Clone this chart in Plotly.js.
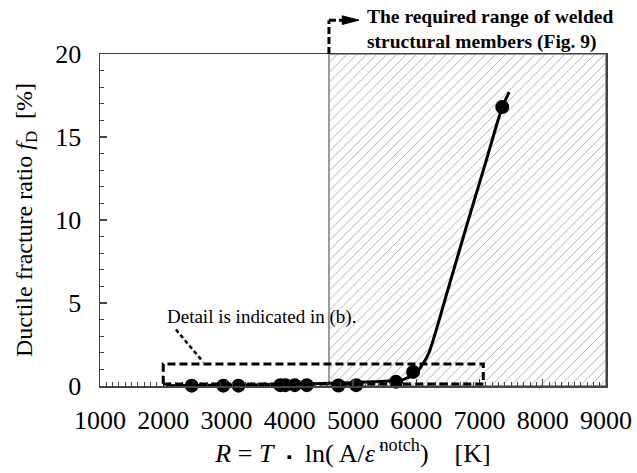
<!DOCTYPE html>
<html>
<head>
<meta charset="utf-8">
<script src="https://cdn.plot.ly/plotly-3.0.1.min.js"></script>
<style>html,body{margin:0;padding:0;background:#fff;}</style>
</head>
<body>
<div id="chart" style="width:637px;height:473px;"></div>
<script>
// Measured points: R [K] vs ductile fracture ratio fD [%]
const rValues = [2450, 2950, 3190, 3850, 3930, 4080, 4270, 4770, 5050, 5680, 5950, 7360];
const fdValues = [0.02, 0.02, 0.02, 0.05, 0.05, 0.05, 0.05, 0.03, 0.05, 0.25, 0.85, 16.8];

// Fitted curve
const fitR  = [2050, 2500, 3000, 3500, 4000, 4500, 5000, 5500, 5800, 6000, 6100, 6200, 6500, 6800, 7100, 7360, 7470];
const fitFd = [0.02, 0.03, 0.05, 0.07, 0.1, 0.15, 0.2, 0.28, 0.4, 0.8, 1.3, 2.0, 5.8, 9.7, 13.5, 16.8, 17.7];

// Required range of welded structural members
const rangeR = [4620, 9000];
const rangeFd = [0, 20];

// Axis ticks
const xTicks = [1000, 2000, 3000, 4000, 5000, 6000, 7000, 8000, 9000];
const yTicks = [0, 5, 10, 15, 20];

const FONT = 'Liberation Serif';

const hatch = {
  x: [rangeR[0], rangeR[1], rangeR[1], rangeR[0], rangeR[0]],
  y: [rangeFd[0], rangeFd[0], rangeFd[1], rangeFd[1], rangeFd[0]],
  type: 'scatter', mode: 'lines', fill: 'toself',
  fillcolor: 'rgba(0,0,0,0)',
  fillpattern: {shape: '/', size: 7, solidity: 0.13, fgcolor: '#a8a8a8', bgcolor: '#ffffff'},
  line: {color: '#9a9a9a', width: 2},
  hoverinfo: 'skip', showlegend: false
};

const fit = {
  x: fitR, y: fitFd, type: 'scatter', mode: 'lines',
  line: {color: '#000', width: 3, shape: 'spline', smoothing: 0.8},
  showlegend: false, cliponaxis: false
};

const pts = {
  x: rValues, y: fdValues, type: 'scatter', mode: 'markers',
  marker: {color: '#000', size: 14},
  showlegend: false, cliponaxis: false
};

const layout = {
  width: 637, height: 473,
  margin: {l: 100, r: 31, t: 54, b: 87},
  paper_bgcolor: '#fff', plot_bgcolor: '#fff',
  font: {family: FONT, color: '#000', size: 25},
  xaxis: {
    range: [1000, 9000], tickvals: xTicks, ticktext: xTicks.map(String),
    showgrid: false, zeroline: false,
    showline: true, linecolor: '#444', linewidth: 1.5, mirror: true,
    ticks: 'inside', ticklen: 7, tickcolor: '#444', tickwidth: 1.2,
    minor: {dtick: 100, ticks: 'inside', ticklen: 4, tickcolor: '#444', tickwidth: 1},
    tickfont: {family: FONT, size: 26, color: '#000'},
    ticklabelstandoff: 10,
    title: {text: '<i>R</i> = <i>T</i>  <span style="font-size:15px">▪</span>  ln( A/<i>ε̇</i><sup> notch</sup>)    [K]',
            font: {family: FONT, size: 26, color: '#000'}, standoff: 6}
  },
  yaxis: {
    range: [0, 20], tickvals: yTicks,
    showgrid: false, zeroline: false,
    showline: true, linecolor: '#444', linewidth: 1.5, mirror: true,
    ticks: 'inside', ticklen: 7, tickcolor: '#444', tickwidth: 1.2,
    minor: {dtick: 1, ticks: 'inside', ticklen: 4, tickcolor: '#444', tickwidth: 1},
    tickfont: {family: FONT, size: 26, color: '#000'},
    ticklabelstandoff: 12,
    title: {text: 'Ductile fracture ratio <i>f</i><sub>D</sub>  [%]',
            font: {family: FONT, size: 24, color: '#000'}, standoff: 16}
  },
  shapes: [
    // dashed detail box
    {type: 'rect', xref: 'x', yref: 'y', x0: 2000, x1: 7060, y0: 0.12, y1: 1.33,
     line: {color: '#000', width: 3, dash: '8px,4px'}, layer: 'above'},
    // leader line
    {type: 'line', xref: 'x', yref: 'y', x0: 2200, y0: 3.4, x1: 2630, y1: 1.45,
     line: {color: '#000', width: 2.5, dash: '4px,3px'}},
    // vertical dashed arrow stem
    {type: 'line', xref: 'x', yref: 'paper', x0: 4620, x1: 4620, y0: 1.0, y1: 1.102,
     line: {color: '#000', width: 3, dash: '7px,3px'}},
    // horizontal dashed arrow stem
    {type: 'line', xref: 'x', yref: 'paper', x0: 4620, x1: 4840, y0: 1.102, y1: 1.102,
     line: {color: '#000', width: 3, dash: '7px,3px'}},
    // arrow head
    {type: 'path', xref: 'x', yref: 'paper',
     path: 'M 4830 1.089 L 5095 1.102 L 4830 1.115 Z',
     fillcolor: '#000', line: {color: '#000', width: 1}}
  ],
  annotations: [
    {xref: 'paper', yref: 'paper', x: 0.524, y: 1.074, xanchor: 'left', yanchor: 'middle',
     text: '<b>The required range of welded<br>structural members (Fig. 9)</b>',
     showarrow: false, align: 'left', font: {family: FONT, size: 19.5, color: '#000'}},
    {xref: 'x', yref: 'y', x: 2030, y: 4.15, xanchor: 'left', yanchor: 'middle',
     text: 'Detail is indicated in (b).', showarrow: false,
     font: {family: FONT, size: 19, color: '#000'}}
  ],
  showlegend: false
};

Plotly.newPlot('chart', [hatch, fit, pts], layout, {staticPlot: true, displayModeBar: false});
</script>
</body>
</html>
